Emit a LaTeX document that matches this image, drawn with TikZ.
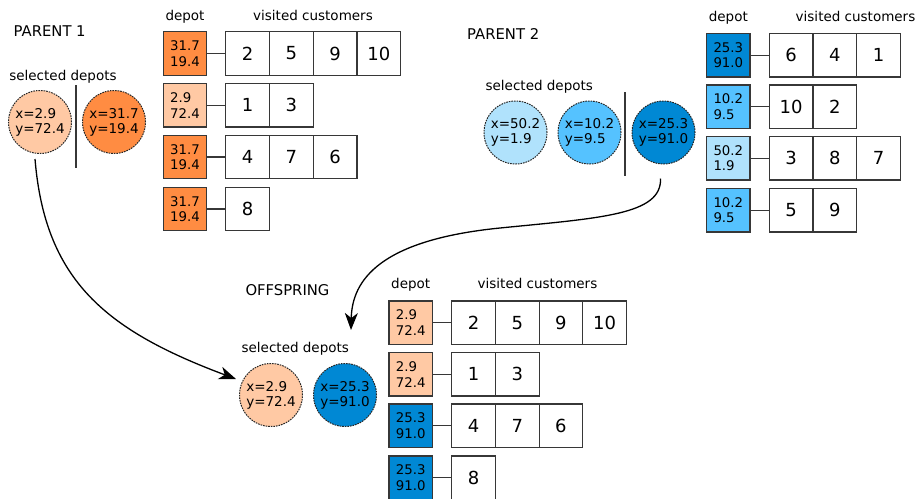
\documentclass[tikz,border=0pt]{standalone}
\usepackage{fontspec}
\setmainfont{DejaVu Sans}
\usetikzlibrary{arrows.meta,calc}
\definecolor{orD}{RGB}{255,140,66}
\definecolor{orL}{RGB}{255,201,164}
\definecolor{blD}{RGB}{0,136,212}
\definecolor{blM}{RGB}{85,194,255}
\definecolor{blL}{RGB}{176,226,252}
\definecolor{linec}{RGB}{55,55,55}
\newcommand{\fsz}[2]{\fontsize{#1}{#2}\selectfont}
\newcommand{\myrow}[7]{%
  \node[depbox, fill=#4] (#1) at (#2,#3) {#5};
  \foreach \c [count=\i] in {#7} {
    \node[custbox] (#1c\i) at ({#6+43.7*(\i-0.5)},#3) {\c};
  }
  \draw[conn] (#1.east) -- (#1c1.west);
}
\begin{document}
\begin{tikzpicture}[x=1pt,y=-1pt,
  depbox/.style={draw=linec, line width=1.2pt, minimum width=43.5pt, minimum height=43.5pt, inner sep=0pt, outer sep=0pt, align=left, font=\fsz{13.3}{15.6}},
  custbox/.style={draw=linec, line width=1.2pt, minimum width=43.7pt, minimum height=43.5pt, inner sep=0pt, outer sep=0pt, font=\fsz{18}{20}},
  conn/.style={draw=linec, line width=1.2pt},
  circ/.style={circle, draw=black!85, line width=1pt, dash pattern=on 1.6pt off 1pt, minimum size=63pt, inner sep=0pt, align=left, font=\fsz{13.5}{15}},
  lbl/.style={inner sep=0pt, anchor=base, font=\fsz{13.5}{16}},
  ttl/.style={inner sep=0pt, anchor=base west, font=\fsz{14.8}{17}},
  divider/.style={draw=linec, line width=1.2pt},
  arr/.style={draw=black, line width=1.3pt, -{Stealth[length=17pt,width=13pt,inset=5pt]}}
]
\useasboundingbox (0,0) rectangle (917,498);

% ---------- PARENT 1 ----------
\node[ttl] (t1) at (13.5,36) {PARENT 1};
\node[lbl] (h1d) at (185,20.5) {depot};
\node[lbl] (h1c) at (313,20.5) {visited customers};
\node[lbl] (s1) at (63,80) {selected depots};
\node[circ, fill=orL] (p1a) at (40,122) {x=2.9\\y=72.4};
\node[circ, fill=orD] (p1b) at (114,122) {x=31.7\\y=19.4};
\draw[divider] (76,85) -- (76,168);
\myrow{p1r1}{185}{53.5}{orD}{31.7\\19.4}{225.8}{2,5,9,10}
\myrow{p1r2}{185}{105.3}{orL}{2.9\\72.4}{225.8}{1,3}
\myrow{p1r3}{185}{157}{orD}{31.7\\19.4}{225.8}{4,7,6}
\myrow{p1r4}{185}{209}{orD}{31.7\\19.4}{225.8}{8}

% ---------- PARENT 2 ----------
\node[ttl] (t2) at (467,39) {PARENT 2};
\node[lbl] (h2d) at (728.3,21.8) {depot};
\node[lbl] (h2c) at (855.5,21.8) {visited customers};
\node[lbl] (s2) at (539.3,90.7) {selected depots};
\node[circ, fill=blL] (p2a) at (515.5,132.5) {x=50.2\\y=1.9};
\node[circ, fill=blM] (p2b) at (589.5,132.5) {x=10.2\\y=9.5};
\node[circ, fill=blD] (p2c) at (663.5,132.5) {x=25.3\\y=91.0};
\draw[divider] (625,92) -- (625,176);
\myrow{p2r1}{728.3}{55.3}{blD}{25.3\\91.0}{769.3}{6,4,1}
\myrow{p2r2}{728.3}{106.7}{blM}{10.2\\9.5}{769.3}{10,2}
\myrow{p2r3}{728.3}{158.3}{blL}{50.2\\1.9}{769.3}{3,8,7}
\myrow{p2r4}{728.3}{210.3}{blM}{10.2\\9.5}{769.3}{5,9}

% ---------- OFFSPRING ----------
\node[ttl] (t3) at (245.3,295) {OFFSPRING};
\node[lbl] (h3d) at (410.7,288.5) {depot};
\node[lbl] (h3c) at (537.5,288.5) {visited customers};
\node[lbl] (s3) at (295.3,352.5) {selected depots};
\node[circ, fill=orL] (o1) at (271,395) {x=2.9\\y=72.4};
\node[circ, fill=blD] (o2) at (345,395) {x=25.3\\y=91.0};
\myrow{or1}{410.7}{322.7}{orL}{2.9\\72.4}{451.7}{2,5,9,10}
\myrow{or2}{410.7}{374.3}{orL}{2.9\\72.4}{451.7}{1,3}
\myrow{or3}{410.7}{425.8}{blD}{25.3\\91.0}{451.7}{4,7,6}
\myrow{or4}{410.7}{477.8}{blD}{25.3\\91.0}{451.7}{8}

% ---------- arrows ----------
\coordinate (a1s) at ([shift={(-5,5)}]p1a.south);
\coordinate (a1e) at ([shift={(-35,-16)}]o1.center);
\draw[arr] (a1s) .. controls (45,280) and (105,330) .. (a1e);
\coordinate (a2s) at ([shift={(-3,14)}]p2c.south);
\coordinate (a2m) at (500,228);
\coordinate (a2e) at ([shift={(6,-33)}]o2.north);
\draw[arr] (a2s) .. controls (662,215) and (600,218) .. (a2m)
  .. controls (380,240) and (352,280) .. (a2e);
\end{tikzpicture}
\end{document}
